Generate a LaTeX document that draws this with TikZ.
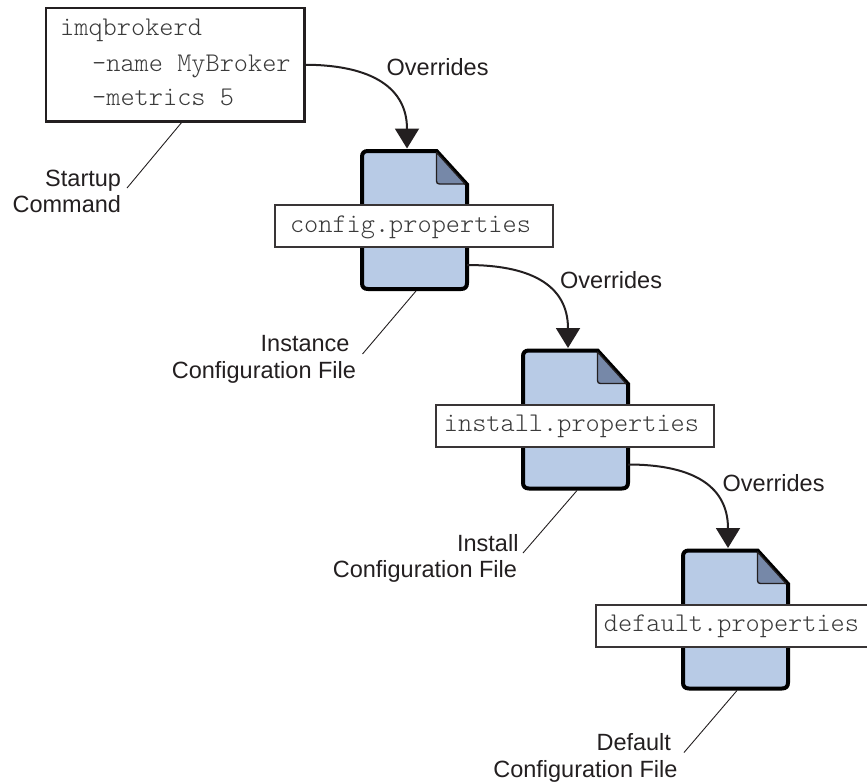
\documentclass[tikz,border=0pt]{standalone}
\usepackage{fontspec}
\setmainfont{Liberation Sans}
\setmonofont{Latin Modern Mono Light}
\usetikzlibrary{arrows.meta,calc}
\definecolor{ink}{HTML}{231F20}
\definecolor{docfill}{HTML}{B8CBE6}
\definecolor{foldfill}{HTML}{7688A8}
\definecolor{monoink}{HTML}{3A3A3A}
\tikzset{
  x=1pt,y=-1pt,
  sanslabel/.style={font=\fontsize{23.5}{26.5}\selectfont,text=ink,inner sep=0pt,outer sep=0pt,anchor=base east,align=right},
  overlabel/.style={font=\fontsize{23.5}{26.5}\selectfont,text=ink,inner sep=0pt,anchor=base west},
  monotext/.style={font=\fontsize{27}{30}\ttfamily,text=monoink,inner sep=0pt,anchor=base west},
  cmdbox/.style={draw=ink,line width=2.5pt,fill=white,minimum width=258.5pt,minimum height=113.5pt,inner sep=0pt,outer sep=0pt,anchor=center},
  filebox/.style={draw=ink!90,line width=2pt,fill=white,minimum width=278pt,minimum height=42pt,inner sep=0pt,outer sep=0pt,anchor=center,font=\fontsize{27}{30}\ttfamily,text=monoink},
  docline/.style={draw=black,line width=4pt,fill=docfill,line join=miter},
  foldline/.style={draw=ink,line width=1.3pt,fill=foldfill,line join=round},
  overarrow/.style={draw=ink,line width=2pt,-{Triangle[width=24pt,length=20pt,fill=ink]}},
  leader/.style={draw=ink,line width=0.9pt},
}
% #1 name, #2 dx, #3 dy, #4 file name
\newcommand{\filedoc}[4]{%
  \begin{scope}[shift={(#2,#3)}]
    \path[docline] (368,151) -- (436.5,151) -- (467,184.5) -- (467,283)
      .. controls (467,287) and (465,289) .. (461,289) -- (368,289)
      .. controls (364,289) and (362,287) .. (362,283) -- (362,157)
      .. controls (362,153) and (364,151) .. (368,151) -- cycle;
    \path[foldline] (436.5,152.5) -- (436.5,181) .. controls (436.5,183) and (437.5,184) .. (439.5,184) -- (465,184) -- cycle;
    \node[filebox,text height=18pt,text depth=5.5pt] (#1box) at (413.5,226) {#4\kern6pt};
    \coordinate (#1in) at (407,148.5);
    \coordinate (#1out) at (467,265);
    \coordinate (#1lead) at (416,291);
  \end{scope}}
\begin{document}
\begin{tikzpicture}
\path[use as bounding box] (0,0) rectangle (867,784);
\clip (0,0) rectangle (867,784);

% command box
\node[cmdbox] (cmd) at (175.25,64.75) {};
\node[monotext] (l1) at (60,36) {imqbrokerd};
\node[monotext] (l2) at (92,71) {-name MyBroker};
\node[monotext] (l3) at (92,105) {-metrics 5};

\filedoc{a}{0}{0}{config.properties}
\filedoc{b}{161}{199.5}{install.properties}
\filedoc{c}{321}{399.5}{default.properties}

% overrides connectors
\draw[overarrow] (cmd.east) .. controls ($(cmd.east)+(60,0)$) and ($(ain)+(0,-65)$) .. (ain);
\draw[overarrow] (aout) .. controls ($(aout)+(60,0)$) and ($(bin)+(0,-65)$) .. (bin);
\draw[overarrow] (bout) .. controls ($(bout)+(60,0)$) and ($(cin)+(0,-65)$) .. (cin);
\node[overlabel] (o1) at (386.5,75.5) {Overrides};
\node[overlabel] (o2) at (560,288.5) {Overrides};
\node[overlabel] (o3) at (722.5,491.5) {Overrides};

% captions
\node[sanslabel] (startup) at (121,212.5) {Startup\\Command};
\node[sanslabel] (inst) at (356,378) {Instance\kern6.5pt\\Configuration File};
\node[sanslabel] (instl) at (517,577.5) {Install\kern-1.5pt\\Configuration File};
\node[sanslabel] (deflt) at (677.5,777) {Default\kern6.5pt\\Configuration File};

\coordinate (cmdlead) at (182,122);
\coordinate (s1) at (127,188);
\coordinate (s2) at (362.5,354);
\coordinate (s3) at (523,553);
\coordinate (s4) at (684,752.5);
\draw[leader] (cmdlead) -- (s1);
\draw[leader] (alead) -- (s2);
\draw[leader] (blead) -- (s3);
\draw[leader] (clead) -- (s4);
\end{tikzpicture}
\end{document}
